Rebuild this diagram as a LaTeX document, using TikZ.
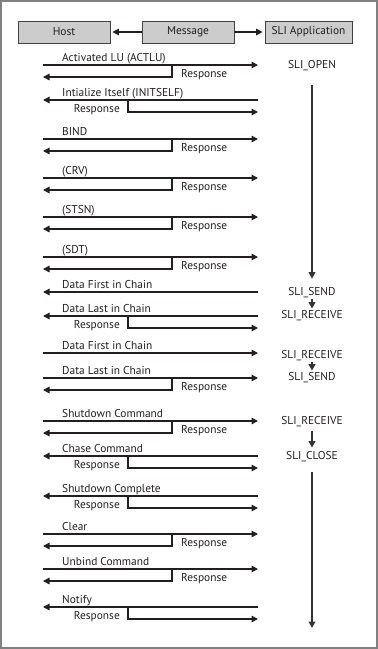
\documentclass[tikz,border=0pt]{standalone}
\usepackage{fontspec}
\setmainfont{PT Sans}
\usepackage{tikz}
\usetikzlibrary{arrows.meta,positioning}
\definecolor{ink}{HTML}{231F20}
\definecolor{framegray}{HTML}{808080}
\definecolor{boxfill}{HTML}{CCCCCC}
\definecolor{flowline}{HTML}{333333}

\begin{document}
\begin{tikzpicture}[x=1pt, y=-1pt, >={Triangle[length=6.5pt,width=6.5pt]},
  hdr/.style={draw=ink!85, fill=boxfill, line width=0.8pt, minimum height=22pt, inner sep=0pt, font=\fontsize{11.4}{13}\selectfont, text=ink},
  msg/.style={draw=ink, line width=1.4pt, ->},
  lbl/.style={anchor=base west, inner sep=0pt, font=\fontsize{11.4}{13}\selectfont, text=ink},
  rsp/.style={lbl, anchor=base east},
  app/.style={anchor=base, inner sep=1pt, font=\fontsize{11.4}{13}\selectfont, text=ink},
  flow/.style={draw=flowline, line width=1.8pt, ->}]
\useasboundingbox (0,0) rectangle (378,649);
\draw[framegray, line width=2.2pt] (1.1,1.1) rectangle (376.9,647.9);
% header
\node[hdr, minimum width=92pt] (host) at (64,32) {Host};
\node[hdr, minimum width=92pt] (message) at (188,32) {Message};
\node[hdr, minimum width=87pt] (sliapp) at (308.5,32) {SLI Application};
\draw[msg, shorten >=2pt] (message) -- (host);
\draw[msg, shorten >=2pt] (message) -- (sliapp);
% ACTLU
\coordinate (h1) at (43,65); \coordinate (s1) at (258,65); \coordinate (k1) at (172,65); \coordinate (r1) at (43,77);
\draw[msg] (h1) -- (s1); \draw[msg] (k1) |- (r1);
\node[lbl] (m1) at (62,61.5) {Activated LU (ACTLU)}; \node[lbl] (p1) at (181,77) {Response};
% INITSELF
\coordinate (h2) at (43,100); \coordinate (s2) at (258,100); \coordinate (k2) at (128,100); \coordinate (r2) at (258,112);
\draw[msg] (s2) -- (h2); \draw[msg] (k2) |- (r2);
\node[lbl] (m2) at (62,96.5) {Intialize Itself (INITSELF)}; \node[rsp] (p2) at (120,112) {Response};
% BIND
\coordinate (h3) at (43,139); \coordinate (s3) at (258,139); \coordinate (k3) at (172,139); \coordinate (r3) at (43,151);
\draw[msg] (h3) -- (s3); \draw[msg] (k3) |- (r3);
\node[lbl] (m3) at (62,135.5) {BIND}; \node[lbl] (p3) at (181,151) {Response};
% CRV
\coordinate (h4) at (43,178); \coordinate (s4) at (258,178); \coordinate (k4) at (172,178); \coordinate (r4) at (43,190);
\draw[msg] (h4) -- (s4); \draw[msg] (k4) |- (r4);
\node[lbl] (m4) at (62,174.5) {(CRV)}; \node[lbl] (p4) at (181,190) {Response};
% STSN
\coordinate (h5) at (43,217); \coordinate (s5) at (258,217); \coordinate (k5) at (172,217); \coordinate (r5) at (43,229);
\draw[msg] (h5) -- (s5); \draw[msg] (k5) |- (r5);
\node[lbl] (m5) at (62,213.5) {(STSN)}; \node[lbl] (p5) at (181,229) {Response};
% SDT
\coordinate (h6) at (43,257); \coordinate (s6) at (258,257); \coordinate (k6) at (172,257); \coordinate (r6) at (43,269);
\draw[msg] (h6) -- (s6); \draw[msg] (k6) |- (r6);
\node[lbl] (m6) at (62,253.5) {(SDT)}; \node[lbl] (p6) at (181,269) {Response};
% data chain, application sends
\coordinate (h7) at (43,292); \coordinate (s7) at (258,292);
\draw[msg] (s7) -- (h7);
\node[lbl] (m7) at (62,288.5) {Data First in Chain};
\coordinate (h8) at (43,316); \coordinate (s8) at (258,316); \coordinate (k8) at (128,316); \coordinate (r8) at (258,328);
\draw[msg] (s8) -- (h8); \draw[msg] (k8) |- (r8);
\node[lbl] (m8) at (62,312.5) {Data Last in Chain}; \node[rsp] (p8) at (120,328) {Response};
% data chain, host sends
\coordinate (h9) at (43,353); \coordinate (s9) at (258,353);
\draw[msg] (h9) -- (s9);
\node[lbl] (m9) at (62,349.5) {Data First in Chain};
\coordinate (h10) at (43,378); \coordinate (s10) at (258,378); \coordinate (k10) at (172,378); \coordinate (r10) at (43,390);
\draw[msg] (h10) -- (s10); \draw[msg] (k10) |- (r10);
\node[lbl] (m10) at (62,374.5) {Data Last in Chain}; \node[lbl] (p10) at (181,390) {Response};
% shutdown
\coordinate (h11) at (43,421); \coordinate (s11) at (258,421); \coordinate (k11) at (172,421); \coordinate (r11) at (43,433);
\draw[msg] (h11) -- (s11); \draw[msg] (k11) |- (r11);
\node[lbl] (m11) at (62,417.5) {Shutdown Command}; \node[lbl] (p11) at (181,433) {Response};
\coordinate (h12) at (43,456); \coordinate (s12) at (258,456); \coordinate (k12) at (128,456); \coordinate (r12) at (258,468);
\draw[msg] (s12) -- (h12); \draw[msg] (k12) |- (r12);
\node[lbl] (m12) at (62,452.5) {Chase Command}; \node[rsp] (p12) at (120,468) {Response};
\coordinate (h13) at (43,496); \coordinate (s13) at (258,496); \coordinate (k13) at (128,496); \coordinate (r13) at (258,508);
\draw[msg] (s13) -- (h13); \draw[msg] (k13) |- (r13);
\node[lbl] (m13) at (62,492.5) {Shutdown Complete}; \node[rsp] (p13) at (120,508) {Response};
% clear, unbind, notify
\coordinate (h14) at (43,534); \coordinate (s14) at (258,534); \coordinate (k14) at (172,534); \coordinate (r14) at (43,546);
\draw[msg] (h14) -- (s14); \draw[msg] (k14) |- (r14);
\node[lbl] (m14) at (62,530.5) {Clear}; \node[lbl] (p14) at (181,546) {Response};
\coordinate (h15) at (43,569); \coordinate (s15) at (258,569); \coordinate (k15) at (172,569); \coordinate (r15) at (43,581);
\draw[msg] (h15) -- (s15); \draw[msg] (k15) |- (r15);
\node[lbl] (m15) at (62,565.5) {Unbind Command}; \node[lbl] (p15) at (181,581) {Response};
\coordinate (h16) at (43,607); \coordinate (s16) at (258,607); \coordinate (k16) at (128,607); \coordinate (r16) at (258,619);
\draw[msg] (s16) -- (h16); \draw[msg] (k16) |- (r16);
\node[lbl] (m16) at (62,603.5) {Notify}; \node[rsp] (p16) at (120,619) {Response};
% SLI application states
\node[app] (open) at (312,68.5) {SLI\_OPEN};
\node[app] (send1) at (312,295) {SLI\_SEND};
\node[app] (recv1) at (312,318) {SLI\_RECEIVE};
\node[app] (recv2) at (312,358) {SLI\_RECEIVE};
\node[app] (send2) at (312,380) {SLI\_SEND};
\node[app] (recv3) at (312,424) {SLI\_RECEIVE};
\node[app] (close) at (312,459) {SLI\_CLOSE};
\coordinate (done) at (312,628);
\draw[flow, shorten <=13pt, shorten >=7pt] (open) -- (send1);
\draw[flow] (send1) -- (recv1);
\draw[flow] (recv2) -- (send2);
\draw[flow, shorten <=3pt, shorten >=2pt] (recv3) -- (close);
\draw[flow, shorten <=9pt] (close) -- (done);
\end{tikzpicture}
\end{document}
